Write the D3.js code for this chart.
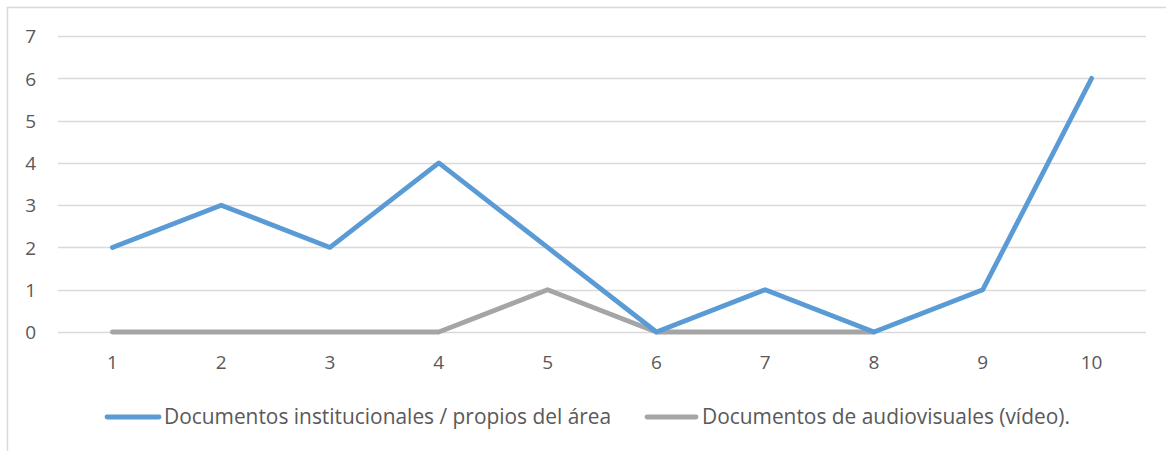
<!DOCTYPE html>
<html>
<head>
<meta charset="utf-8">
<script src="https://cdn.jsdelivr.net/npm/d3@7"></script>
<style>
  html, body { margin: 0; padding: 0; background: #fff; }
  svg { display: block; }
  text { font-family: "Open Sans", "Noto Sans", sans-serif; fill: #595959; }
</style>
</head>
<body>
<svg id="chart" width="1166" height="451"></svg>
<script>
// Chart data
const categories = ["1", "2", "3", "4", "5", "6", "7", "8", "9", "10"];
const institucionales = [2, 3, 2, 4, 2, 0, 1, 0, 1, 6];
const audiovisuales = [0, 0, 0, 0, 1, 0, 0, 0, null, null];
const yTicks = [0, 1, 2, 3, 4, 5, 6, 7];
const seriesNames = ["Documentos institucionales / propios del área", "Documentos de audiovisuales (vídeo)."];
const seriesColors = ["#5B9BD5", "#A5A5A5"];

const svg = d3.select("#chart");
const W = 1166, H = 451;
const plot = { left: 58, right: 1146, top: 36, bottom: 332 };

// Outer chart border
svg.append("rect")
  .attr("x", 7.5).attr("y", 7.5)
  .attr("width", W).attr("height", H)
  .attr("fill", "none").attr("stroke", "#D9D9D9").attr("stroke-width", 1.5);

const x = d3.scaleBand().domain(categories).range([plot.left, plot.right]);
const y = d3.scaleLinear().domain([0, 7]).range([plot.bottom, plot.top]);

// Horizontal gridlines
svg.append("g")
  .selectAll("line")
  .data(yTicks)
  .join("line")
  .attr("x1", plot.left).attr("x2", plot.right)
  .attr("y1", d => Math.round(y(d)) + 0.5).attr("y2", d => Math.round(y(d)) + 0.5)
  .attr("stroke", "#D9D9D9").attr("stroke-width", 1.3);

// Y axis labels
const yAxis = d3.axisLeft(y).tickValues(yTicks).tickFormat(d3.format("d")).tickSize(0).tickPadding(0);
const gy = svg.append("g").attr("transform", "translate(36,0)").call(yAxis);
gy.select(".domain").remove();
gy.attr("font-size", null).attr("font-family", null);
gy.selectAll("text").style("font-size", "19px").attr("fill", "#595959").attr("dy", "0.36em");

// X axis labels
const xAxis = d3.axisBottom(x).tickSize(0).tickPadding(0);
const gx = svg.append("g").attr("transform", `translate(0,369)`).call(xAxis);
gx.select(".domain").remove();
gx.attr("font-size", null).attr("font-family", null);
gx.selectAll("text").style("font-size", "19px").attr("fill", "#595959").attr("dy", 0).attr("y", 0);

// Series lines
const cx = c => x(c) + x.bandwidth() / 2;
const series = [institucionales, audiovisuales];
const line = d3.line()
  .defined(d => d.v !== null)
  .x(d => cx(d.c))
  .y(d => y(d.v));

// gray drawn first so the blue series sits on top
[1, 0].forEach(i => {
  svg.append("path")
    .datum(categories.map((c, j) => ({ c, v: series[i][j] })))
    .attr("d", line)
    .attr("fill", "none")
    .attr("stroke", seriesColors[i])
    .attr("stroke-width", 4.8)
    .attr("stroke-linejoin", "round")
    .attr("stroke-linecap", "round");
});

// Legend
const legendY = 417;
const legendItems = [
  { x1: 107, x2: 159, tx: 164 },
  { x1: 647, x2: 696, tx: 702 }
];
legendItems.forEach((it, i) => {
  const g = svg.append("g");
  g.append("line")
    .attr("x1", it.x1).attr("x2", it.x2)
    .attr("y1", legendY).attr("y2", legendY)
    .attr("stroke", seriesColors[i]).attr("stroke-width", 4.8)
    .attr("stroke-linecap", "round");
  g.append("text")
    .attr("x", it.tx).attr("y", 424)
    .style("font-size", "20.9px")
    .text(seriesNames[i]);
});
</script>
</body>
</html>
